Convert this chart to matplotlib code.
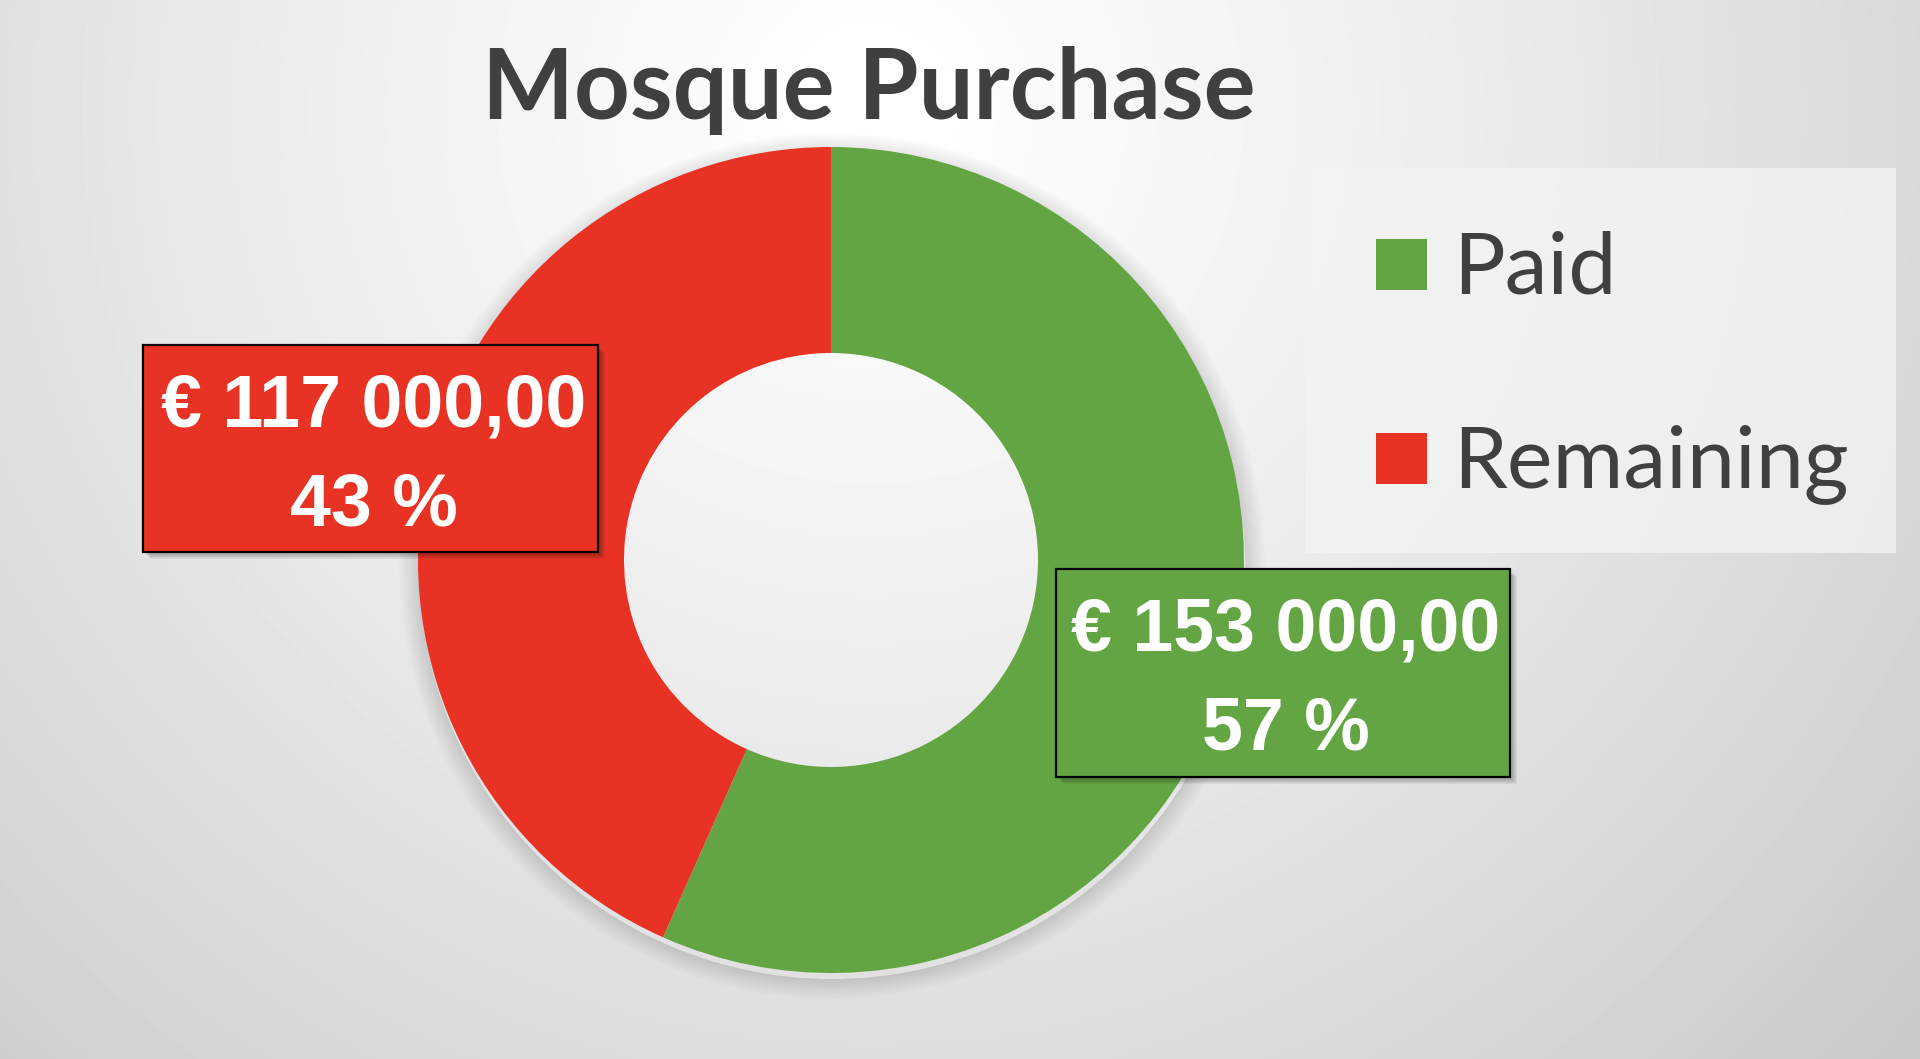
import numpy as np
import matplotlib.pyplot as plt
from matplotlib.patches import Rectangle, Wedge

# chart data
labels = ["Paid", "Remaining"]
amounts = [153000, 117000]
colors = ["#64A543", "#E83324"]
title = "Mosque Purchase"

W, H = 1920, 1059
total = sum(amounts)


def euro(v):
    s = f"{v:,.2f}".replace(",", " ").replace(".", ",")
    return "€ " + s


fig = plt.figure(figsize=(19.2, 10.59), dpi=100)
ax = fig.add_axes([0, 0, 1, 1])

# background: soft radial gradient, light at the top centre
yy, xx = np.mgrid[0:H, 0:W]
dist = np.hypot(xx - 870, yy - 110)
shade = 1 - 0.21 * (dist / 1400) ** 1.2
ax.imshow(shade, cmap="gray", vmin=0, vmax=1, extent=[0, W, 0, H],
          origin="upper", aspect="auto", zorder=0)

cx, cy = 831, H - 560
r_out, r_in = 413, 207

# soft shadow round the ring
for k in range(2, 22, 2):
    ax.add_patch(Wedge((cx + 1, cy - 6), r_out + k, 0, 360, width=k,
                       facecolor="black", alpha=0.01, lw=0, zorder=1))

ax.pie(amounts, colors=colors, startangle=90, counterclock=False,
       radius=r_out, center=(cx, cy),
       wedgeprops=dict(width=r_out - r_in, linewidth=0, zorder=2))

ax.set_xlim(0, W)
ax.set_ylim(0, H)
ax.set_aspect("auto")
ax.axis("off")

# title
ax.text(869, H - 119, title, ha="center", va="baseline", fontsize=70,
        fontweight="bold", color="#404040",
        family=["Lato", "DejaVu Sans"], zorder=5)

# data label boxes (left/top corner in pixels, width, height)
boxes = {"Paid": (1056, 569, 454, 208), "Remaining": (143, 345, 455, 207)}
for lab, val, col in zip(labels, amounts, colors):
    x0, y0, bw, bh = boxes[lab]
    for i in range(1, 6):
        ax.add_patch(Rectangle((x0 + 2 + i, H - y0 - bh - 2 - i), bw, bh,
                               facecolor="black", alpha=0.05, lw=0, zorder=6))
    ax.add_patch(Rectangle((x0, H - y0 - bh), bw, bh, facecolor=col,
                           edgecolor="black", lw=1.6, zorder=7))
    xm = x0 + bw / 2 + 3
    ax.text(xm, H - (y0 + 82), euro(val), ha="center", va="baseline",
            fontsize=53, fontweight="bold", color="white",
            family=["Liberation Sans", "DejaVu Sans"], zorder=8)
    ax.text(xm, H - (y0 + 181), f"{round(val / total * 100)} %", ha="center",
            va="baseline", fontsize=53, fontweight="bold", color="white",
            family=["Liberation Sans", "DejaVu Sans"], zorder=8)

# legend panel
ax.add_patch(Rectangle((1305, H - 553), 591, 385, facecolor="#f4f4f4",
                       alpha=0.75, lw=0, zorder=3))
legend_y = [264, 458]
for lab, col, ly in zip(labels, colors, legend_y):
    ax.add_patch(Rectangle((1376, H - ly - 26), 51, 51, facecolor=col,
                           lw=0, zorder=4))
    ax.text(1453, H - (ly + 29), lab, ha="left", va="baseline", fontsize=62,
            color="#404040", family=["Lato", "DejaVu Sans"], zorder=4)

fig.savefig("out.png", dpi=100)
